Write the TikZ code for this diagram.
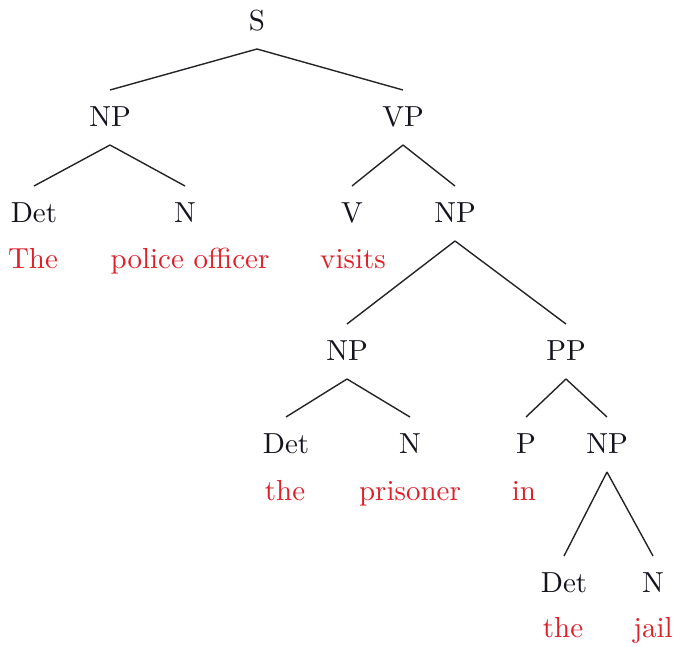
\documentclass[tikz,border=0pt]{standalone}
\usepackage{fontspec}
% text-size cut of Latin Modern, heavier than the display cut
\newfontfamily\treefont{lmroman10-regular.otf}
\begin{document}
\definecolor{catcol}{RGB}{20,20,30}
\definecolor{wordcol}{RGB}{222,32,42}
\definecolor{edgecol}{RGB}{36,36,40}
\begin{tikzpicture}[x=1pt,y=-1pt,
  cat/.style={font=\treefont\fontsize{29}{36}\selectfont, text=catcol, anchor=base,
    inner xsep=0pt, inner ysep=15pt, outer sep=0pt, text height=21pt, text depth=4pt},
  word/.style={font=\treefont\fontsize{29}{36}\selectfont, text=wordcol, anchor=base,
    inner sep=0pt},
  edge/.style={draw=edgecol, line width=1.4pt}]
\useasboundingbox (0,0) rectangle (675,646);

% categories
\node[cat] (s)    at (257,30)  {S};
\node[cat] (np1)  at (110,126) {NP};
\node[cat] (vp)   at (403,126) {VP};
\node[cat] (det1) at (34,222)  {Det};
\node[cat] (n1)   at (185,222) {N};
\node[cat] (v)    at (352,222) {V};
\node[cat] (np2)  at (455,222) {NP};
\node[cat] (np3)  at (347,360) {NP};
\node[cat] (pp)   at (566,360) {PP};
\node[cat] (det2) at (286,453) {Det};
\node[cat] (n2)   at (410,453) {N};
\node[cat] (p)    at (526,453) {P};
\node[cat] (np4)  at (607,453) {NP};
\node[cat] (det3) at (564,592) {Det};
\node[cat] (n3)   at (653,592) {N};

% words
\node[word] (w1) at (33,268)  {The};
\node[word] (w2) at (190,268) {police officer};
\node[word] (w3) at (353,268) {visits};
\node[word] (w4) at (285,500) {the};
\node[word] (w5) at (410,500) {prisoner};
\node[word] (w6) at (524,500) {in};
\node[word] (w7) at (563,637) {the};
\node[word] (w8) at (653,637) {jail};

% branches
\foreach \a/\b in {s/np1, s/vp, np1/det1, np1/n1, vp/v, vp/np2,
                   np2/np3, np2/pp, np3/det2, np3/n2, pp/p, pp/np4,
                   np4/det3, np4/n3}
  \draw[edge] (\a.south) -- (\b.north);
\end{tikzpicture}
\end{document}
